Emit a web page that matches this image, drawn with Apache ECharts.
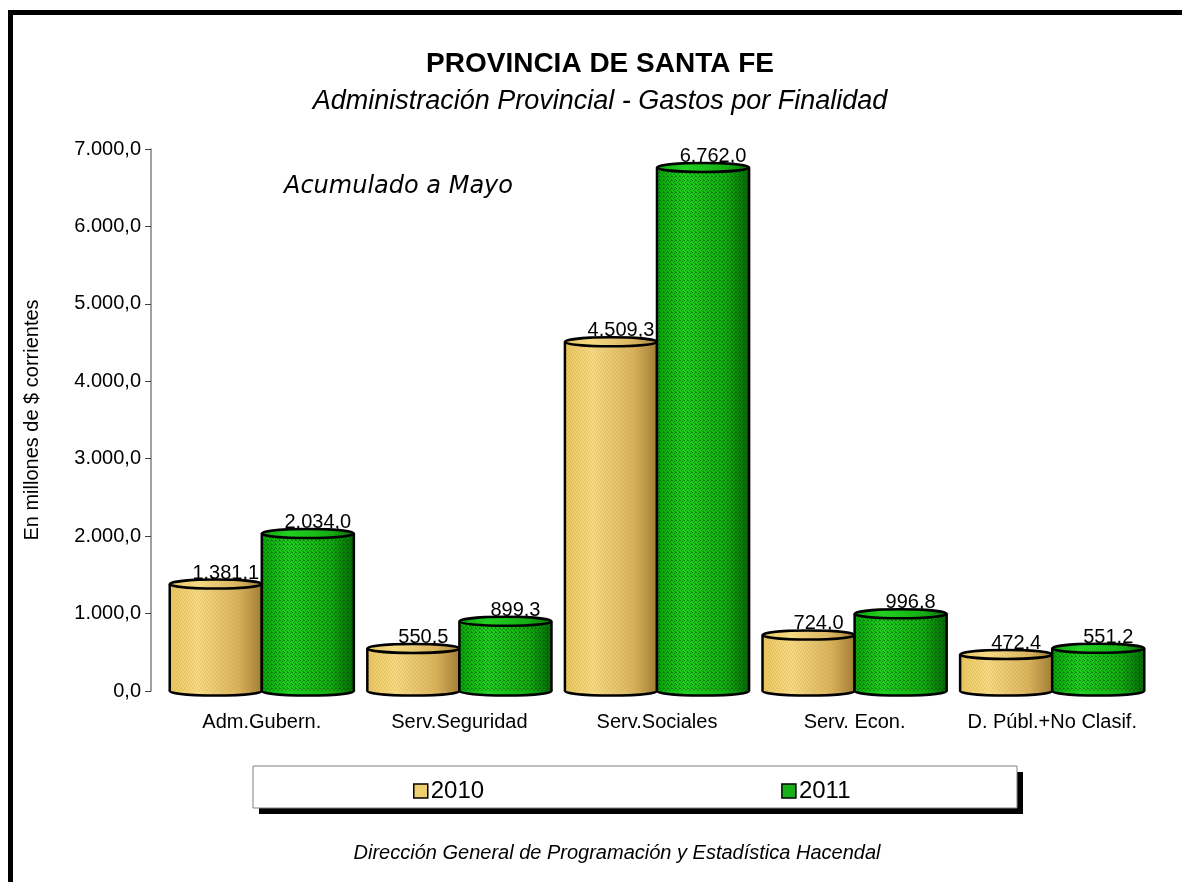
<!DOCTYPE html>
<html>
<head>
<meta charset="utf-8">
<script src="https://cdn.jsdelivr.net/npm/echarts@6/dist/echarts.min.js"></script>
<style>
html, body { margin: 0; padding: 0; background: #fff; }
#main { width: 1182px; height: 882px; }
</style>
</head>
<body>
<div id="main"></div>
<script>
var categories = ['Adm.Gubern.', 'Serv.Seguridad', 'Serv.Sociales', 'Serv. Econ.', 'D. Públ.+No Clasif.'];
var values2010 = [1381.1, 550.5, 4509.3, 724.0, 472.4];
var values2011 = [2034.0, 899.3, 6762.0, 996.8, 551.2];
var seriesNames = ['2010', '2011'];

// 1234.5 -> "1.234,5"
function fmt(v) {
	var s = Number(v).toFixed(1).split('.');
	return s[0].replace(/\B(?=(\d{3})+(?!\d))/g, '.') + ',' + s[1];
}

// small dotted texture like the excel fill
function dots(color, pts) {
	var c = document.createElement('canvas');
	c.width = 4;
	c.height = 4;
	var ctx = c.getContext('2d');
	ctx.fillStyle = color;
	pts.forEach(function (p) { ctx.fillRect(p[0], p[1], 1, 1); });
	return { image: c, repeat: 'repeat' };
}
var yellowDots = dots('rgba(190,120,20,0.22)', [[0, 0], [2, 1], [1, 3], [3, 2]]);
var greenDots = dots('rgba(0,50,0,0.45)', [[0, 0], [2, 1], [1, 2], [3, 3], [3, 0]]);

var yellow = new echarts.graphic.LinearGradient(0, 0, 1, 0, [
	{ offset: 0, color: '#e8c660' },
	{ offset: 0.3, color: '#f5da84' },
	{ offset: 0.75, color: '#d8b35e' },
	{ offset: 1, color: '#9f7e38' },
]);
var green = new echarts.graphic.LinearGradient(0, 0, 1, 0, [
	{ offset: 0, color: '#0ba50b' },
	{ offset: 0.3, color: '#22d022' },
	{ offset: 0.75, color: '#14ad14' },
	{ offset: 1, color: '#066c06' },
]);

function cylinder(side, fill, tex) {
	return function (params, api) {
		var val = api.value(1);
		var top = api.coord([api.value(0), val]);
		var base = api.coord([api.value(0), 0]);
		var w = api.size([1, 0])[0] * 0.466;
		var x0 = side < 0 ? top[0] - w : top[0];
		var rx = w / 2, ry = 4.5, cx = x0 + rx;
		return {
			type: 'group',
			children: [
				{ type: 'ellipse', shape: { cx: cx, cy: base[1], rx: rx, ry: ry }, style: { fill: fill, stroke: '#000', lineWidth: 2.5 } },
				{ type: 'rect', shape: { x: x0, y: top[1], width: w, height: base[1] - top[1] }, style: { fill: fill } },
				{ type: 'rect', shape: { x: x0, y: top[1], width: w, height: base[1] - top[1] }, style: { fill: tex } },
				{ type: 'line', shape: { x1: x0, y1: top[1], x2: x0, y2: base[1] }, style: { stroke: '#000', lineWidth: 2.5 } },
				{ type: 'line', shape: { x1: x0 + w, y1: top[1], x2: x0 + w, y2: base[1] }, style: { stroke: '#000', lineWidth: 2.5 } },
				{ type: 'ellipse', shape: { cx: cx, cy: top[1], rx: rx, ry: ry }, style: { fill: fill, stroke: '#000', lineWidth: 2.5 } },
				{
					type: 'text',
					style: {
						text: fmt(val), x: cx + 10, y: top[1] - 1,
						align: 'center', verticalAlign: 'bottom',
						fill: '#000', font: '20px "Liberation Sans", Arial, sans-serif',
					},
				},
			],
		};
	};
}

var myChart = echarts.init(document.getElementById('main'));
myChart.setOption({
	backgroundColor: '#fff',
	animation: false,
	textStyle: { fontFamily: '"Liberation Sans", Arial, sans-serif' },
	title: [
		{
			text: 'PROVINCIA DE SANTA FE',
			left: 595, top: 45, textAlign: 'center',
			textStyle: { fontSize: 28, fontWeight: 'bold', color: '#000' },
		},
		{
			text: 'Administración Provincial - Gastos por Finalidad',
			left: 595, top: 83, textAlign: 'center',
			textStyle: { fontSize: 27, fontStyle: 'italic', fontWeight: 'normal', color: '#000' },
		},
		{
			text: 'Dirección General de Programación y Estadística Hacendal',
			left: 612, top: 838, textAlign: 'center',
			textStyle: { fontSize: 20, fontStyle: 'italic', fontWeight: 'normal', color: '#000' },
		},
	],
	graphic: [
		{ type: 'rect', shape: { x: 8, y: 10, width: 1174, height: 5 }, style: { fill: '#000' } },
		{ type: 'rect', shape: { x: 8, y: 10, width: 5, height: 872 }, style: { fill: '#000' } },
		{ type: 'rect', z: -2, shape: { x: 259, y: 772, width: 764, height: 42 }, style: { fill: '#000' } },
		{ type: 'rect', z: -1, shape: { x: 253, y: 766, width: 764, height: 42 }, style: { fill: '#fff', stroke: '#808080', lineWidth: 1 } },
		{
			type: 'text', left: 284, top: 175,
			style: { text: 'Acumulado a Mayo', font: 'italic 24px "Comic Sans MS", "DejaVu Sans", sans-serif', fill: '#000' },
		},
	],
	legend: {
		data: seriesNames,
		left: 408, top: 774,
		itemWidth: 14, itemHeight: 14, itemGap: 297,
		icon: 'rect',
		itemStyle: { borderColor: '#000', borderWidth: 1.5 },
		textStyle: { fontSize: 24, color: '#000', padding: [4, 0, 0, -2] },
	},
	grid: { left: 163, right: 31, top: 149, bottom: 191, containLabel: false },
	xAxis: {
		type: 'category',
		data: categories,
		axisLine: { show: false },
		axisTick: { show: false },
		axisLabel: { color: '#000', fontSize: 20, margin: 21, interval: 0 },
	},
	yAxis: {
		type: 'value',
		min: 0, max: 7000, interval: 1000,
		offset: 12,
		name: 'En millones de $ corrientes',
		nameLocation: 'middle', nameRotate: 90, nameGap: 109,
		nameTextStyle: { fontSize: 20, color: '#000' },
		axisLine: { show: true, lineStyle: { color: '#808080', width: 1.5 } },
		axisTick: { show: true, length: 6, lineStyle: { color: '#404040' } },
		splitLine: { show: false },
		axisLabel: { color: '#000', fontSize: 20, margin: 10, formatter: fmt },
	},
	series: [
		{
			name: '2010', type: 'custom',
			itemStyle: { color: '#efd070' },
			renderItem: cylinder(-1, yellow, yellowDots),
			encode: { x: 0, y: 1 },
			data: values2010.map(function (v, i) { return [i, v]; }),
		},
		{
			name: '2011', type: 'custom',
			itemStyle: { color: '#18b018' },
			renderItem: cylinder(1, green, greenDots),
			encode: { x: 0, y: 1 },
			data: values2011.map(function (v, i) { return [i, v]; }),
		},
	],
});
</script>
</body>
</html>
